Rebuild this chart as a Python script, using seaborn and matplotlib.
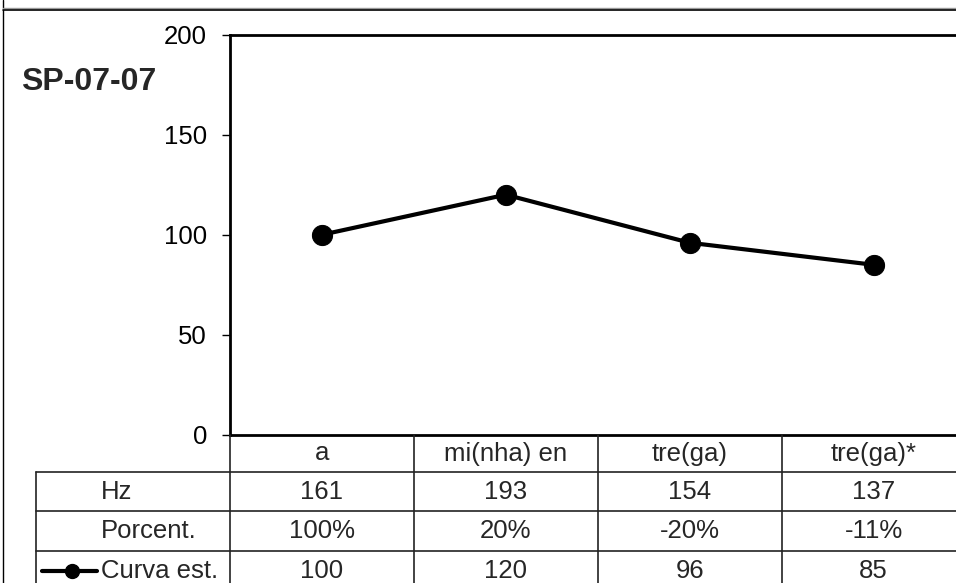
import matplotlib.pyplot as plt
import seaborn as sns
import pandas as pd
from matplotlib.lines import Line2D

# data
categories = ["a", "mi(nha) en", "tre(ga)", "tre(ga)*"]
hz_values = [161, 193, 154, 137]
porcent_labels = ["100%", "20%", "-20%", "-11%"]
curva_values = [100, 120, 96, 85]
row_labels = ["Hz", "Porcent.", "Curva est."]
y_ticks = [0, 50, 100, 150, 200]
chart_title = "SP-07-07"

W, H = 956, 583
FONT = 18.5


def fx(x):
    return x / W


def fy(y):
    return 1 - y / H


sns.set_style("ticks")
plt.rcParams["font.family"] = ["Liberation Sans", "DejaVu Sans"]

fig = plt.figure(figsize=(W / 100, H / 100), dpi=100)

# outer frames (bottom of chart above, frame of this chart)
fig.add_artist(Line2D([fx(3.3), fx(3.3)], [fy(0), fy(7.5)], color="black", lw=1))
fig.add_artist(Line2D([fx(3.3), 1], [fy(7.6), fy(7.6)], color="#999999", lw=1))
fig.add_artist(Line2D([fx(3.3), 1], [fy(10), fy(10)], color="black", lw=1.2))
fig.add_artist(Line2D([fx(3.3), fx(3.3)], [fy(10), 0], color="black", lw=1))

# plot area
ax = fig.add_axes([fx(230), fy(435), (965.5 - 230) / W, (435 - 34.5) / H])
df = pd.DataFrame({"cat": categories, "curva": curva_values})
sns.lineplot(data=df, x="cat", y="curva", sort=False, ax=ax, color="black",
             lw=3, marker="o", markersize=14.5, markeredgecolor="black",
             markerfacecolor="black")
ax.set_xlim(-0.5, len(categories) - 0.5)
ax.set_ylim(y_ticks[0], y_ticks[-1])
ax.set_yticks(y_ticks)
ax.tick_params(axis="y", direction="out", length=5.5, width=1, pad=11,
               labelsize=FONT, colors="black")
ax.tick_params(axis="x", length=0, labelbottom=False)
ax.set_xlabel("")
ax.set_ylabel("")
for sp in ax.spines.values():
    sp.set_visible(True)
    sp.set_color("black")
    sp.set_linewidth(2)

fig.text(fx(21), fy(82), chart_title, fontsize=23, fontweight="bold",
         va="center", ha="left")

# data table below the plot
tab = fig.add_axes([fx(35.7), fy(590), (965.5 - 35.7) / W, (590 - 435) / H])
left = -0.5 - (230 - 35.7) / 184
tab.set_xlim(left, len(categories) - 0.5)
tab.set_ylim(155, 0)
tab.axis("off")
row_edges = [0, 37, 76, 116, 155]
lc = "#222222"
for i in range(len(categories) + 1):
    tab.plot([i - 0.5, i - 0.5], [0, 155], color=lc, lw=1.2, clip_on=False)
for y in row_edges[1:4]:
    tab.plot([left, len(categories) - 0.5], [y, y], color=lc, lw=1.2, clip_on=False)
tab.plot([left, left], [row_edges[1], 155], color=lc, lw=1.2, clip_on=False)

rows = [categories, [str(v) for v in hz_values], porcent_labels,
        [str(v) for v in curva_values]]
for r, vals in enumerate(rows):
    yc = (row_edges[r] + row_edges[r + 1]) / 2
    for i, v in enumerate(vals):
        tab.text(i, yc, v, ha="center", va="center", fontsize=FONT)
    if r > 0:
        tab.text(left + 65 / 184, yc, row_labels[r - 1], ha="left",
                 va="center", fontsize=FONT)

# legend key in the last row
yk = (row_edges[3] + row_edges[4]) / 2
tab.plot([left + 6.5 / 184, left + 61 / 184], [yk, yk], color="black", lw=3,
         clip_on=False)
tab.plot([left + 36 / 184], [yk], marker="o", color="black", markersize=10,
         clip_on=False)

fig.savefig("out.png", dpi=100)
